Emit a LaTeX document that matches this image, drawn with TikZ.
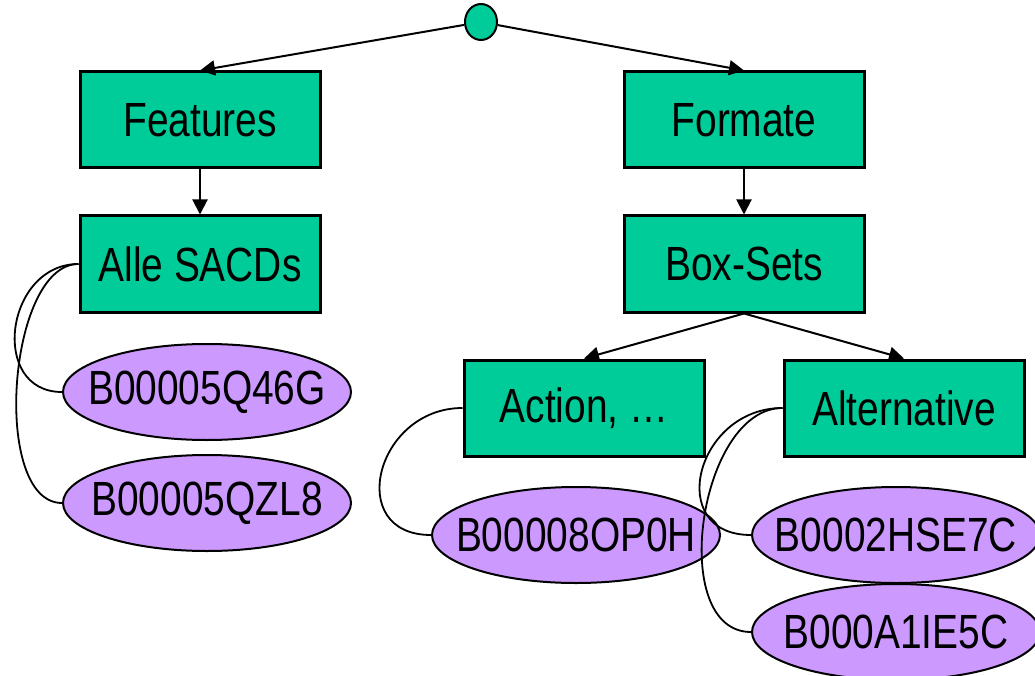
\documentclass[tikz,border=0pt]{standalone}
\usepackage{fontspec}
\setmainfont{Liberation Sans}[FakeStretch=0.81]
\usetikzlibrary{arrows.meta,shapes.geometric}
\definecolor{boxgreen}{HTML}{00CC99}
\definecolor{leafviolet}{HTML}{CC99FF}
% text that does not widen the ellipse
\newcommand{\nowidth}[1]{\makebox[0pt]{#1}}
\tikzset{
  cat/.style={draw,line width=3pt,fill=boxgreen,minimum width=240pt,minimum height=96pt,
    inner sep=0pt,font=\fontsize{48}{52}\selectfont},
  leaf/.style={ellipse,draw,line width=2pt,fill=leafviolet,minimum width=288pt,minimum height=96pt,
    inner sep=0pt,font=\fontsize{48}{52}\selectfont},
  top/.style={ellipse,draw,line width=2pt,fill=boxgreen,minimum width=32pt,minimum height=36pt,inner sep=0pt}
}
\begin{document}
\begin{tikzpicture}[x=1pt,y=-1pt]
      \useasboundingbox (0,0) rectangle (1035,676);
      \clip (0,0) rectangle (1035,676);
      \draw
        (481,22) node[top] (root){}
        (200,120) node[cat] (feat){Features}
        (744,120) node[cat] (form){Formate}
        (200,264) node[cat] (alle){Alle SACDs}
        (744,264) node[cat] (box){Box-Sets}
        (584,408) node[cat] (act){Action, …}
        (904,408) node[cat] (alt){Alternative}
        (207,392) node[leaf] (q46g){\nowidth{B00005Q46G}}
        (207,503) node[leaf] (qzl8){\nowidth{B00005QZL8}}
        (576,535) node[leaf] (op0h){\nowidth{B00008OP0H}}
        (896,535) node[leaf] (hse7c){\nowidth{B0002HSE7C}}
        (896,632) node[leaf] (ie5c){\nowidth{B000A1IE5C}};
      \begin{scope}[-{Triangle[length=15pt,width=15pt]},line width=2pt]
        \draw (root) to (feat.north);
        \draw (root) to (form.north);
        \draw (feat) to (alle);
        \draw (form) to (box);
        \draw (box.south) to (act.north);
        \draw (box.south) to (alt.north);
      \end{scope}
      \begin{scope}[-,line width=1.8pt]
        \draw (alle.west) to[out=180,in=180,looseness=1.45] (q46g.west);
        \draw (alle.west) to[out=180,in=180,looseness=0.76] (qzl8.west);
        \draw (act.west) to[out=180,in=180,looseness=1.7] (op0h.west);
        \draw (alt.west) to[out=180,in=180,looseness=1.7] (hse7c.west);
        \draw (alt.west) to[out=180,in=180,looseness=0.95] (ie5c.west);
      \end{scope}
    \end{tikzpicture}
\end{document}
